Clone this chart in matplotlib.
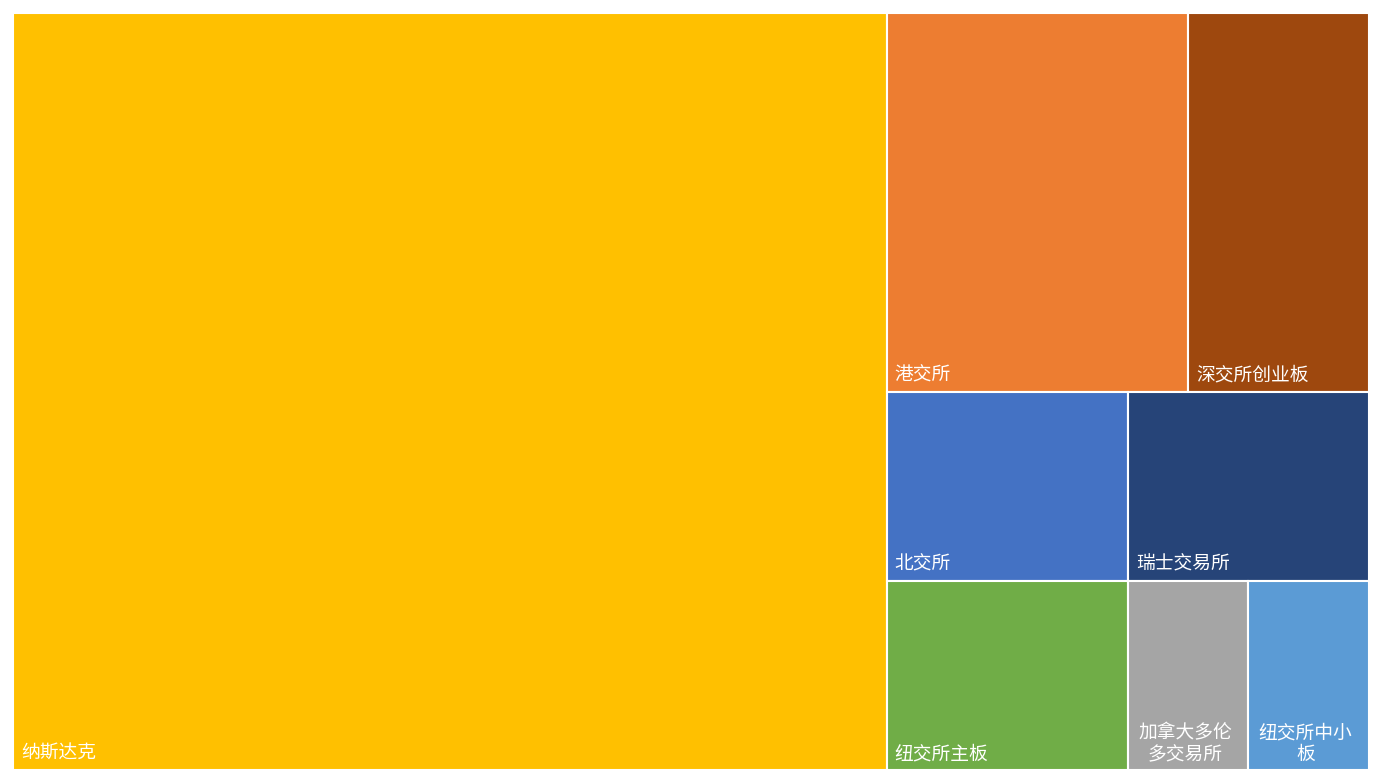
#!/usr/bin/env python
"""
Treemap of listings per exchange, drawn with plain matplotlib rectangles.
"""

import matplotlib.pyplot as plt
from matplotlib.patches import Rectangle

plt.rcParams['font.family'] = ['Noto Sans CJK SC', 'DejaVu Sans']

# Data
exchanges = ['纳斯达克', '港交所', '深交所创业板', '北交所', '纽交所主板',
             '瑞士交易所', '加拿大多伦多交易所', '纽交所中小板']
counts = [29, 5, 3, 2, 2, 2, 1, 1]
colors = ['#FFC000', '#ED7D31', '#9E480E', '#4472C4', '#70AD47',
          '#264478', '#A5A5A5', '#5B9BD5']

FIG_W, FIG_H = 1382, 783
MARGIN = 13
FONT_SIZE = 13.5


def mean_ratio(row, side, total, area):
    """
    Average aspect ratio of the boxes in a row laid along `side`
    """
    thick = sum(row) / total * area / side
    ratios = []
    for v in row:
        length = v / total * area / thick
        ratios.append(max(length / thick, thick / length))
    return sum(ratios) / len(ratios)


def squarify(values, x, y, w, h):
    """
    Squarified layout that grows a row while the mean aspect ratio improves
    """
    rects = []
    values = list(values)
    while values:
        total = sum(values)
        area = w * h
        side = min(w, h)
        row = [values[0]]
        while len(row) < len(values):
            new_row = row + [values[len(row)]]
            if mean_ratio(new_row, side, total, area) <= mean_ratio(row, side, total, area):
                row = new_row
            else:
                break
        thick = sum(row) / total * area / side
        pos = 0
        for v in row:
            length = v / total * area / thick
            if w >= h:
                # column on the left
                rects.append((x, y + pos, thick, length))
            else:
                # row on the top
                rects.append((x + pos, y, length, thick))
            pos += length
        if w >= h:
            x += thick
            w -= thick
        else:
            y += thick
            h -= thick
        values = values[len(row):]
    return rects


def wrap_label(label, width):
    """
    Breaks a label into lines that fit into the box width
    """
    char_px = FONT_SIZE * 100 / 72
    per_line = max(1, int((width - 18) // char_px))
    if len(label) <= per_line:
        return label, False
    lines = [label[i:i + per_line] for i in range(0, len(label), per_line)]
    return '\n'.join(lines), True


fig = plt.figure(figsize=(FIG_W / 100, FIG_H / 100), dpi=100)
ax = fig.add_axes([0, 0, 1, 1])
ax.set_xlim(0, FIG_W)
ax.set_ylim(FIG_H, 0)
ax.axis('off')

boxes = squarify(counts, MARGIN, MARGIN, FIG_W - 2 * MARGIN, FIG_H - 2 * MARGIN)

for (bx, by, bw, bh), name, color in zip(boxes, exchanges, colors):
    ax.add_patch(Rectangle((bx, by), bw, bh, facecolor=color,
                           edgecolor='white', linewidth=1.5))
    text, wrapped = wrap_label(name, bw)
    if wrapped:
        ax.text(bx + bw / 2 - 3, by + bh - 5, text, color='white',
                fontsize=FONT_SIZE, ha='center', va='bottom',
                multialignment='center', linespacing=1.05)
    else:
        ax.text(bx + 8, by + bh - 6, text, color='white',
                fontsize=FONT_SIZE, ha='left', va='bottom')

fig.savefig('out.png', dpi=100, facecolor='white')
